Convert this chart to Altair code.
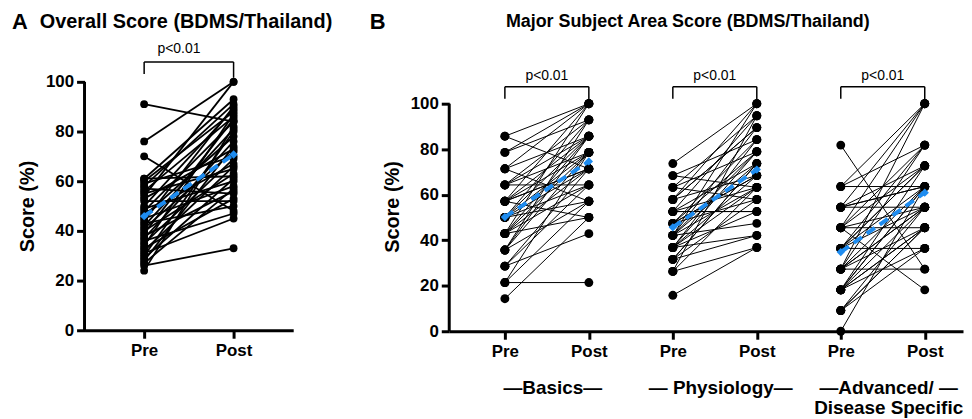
import altair as alt
import pandas as pd

# ---------------- data ----------------
phases = ["Pre", "Post"]
y_ticks = [0, 20, 40, 60, 80, 100]

overall_pre = [91, 76, 70, 61, 61, 60, 59, 58, 57, 56, 55, 54, 53, 52, 50, 49, 48, 47, 46, 45,
               44, 43, 42, 41, 40, 39, 38, 37, 36, 35, 34, 33, 32, 31, 30, 29, 28, 27, 26, 24]
overall_post = [84, 100, 48, 93, 62, 88, 70, 91, 55, 86, 65, 100, 73, 52, 89, 60, 84, 67, 78, 58,
                90, 50, 81, 72, 63, 85, 56, 76, 47, 69, 87, 53, 66, 45, 80, 61, 74, 57, 33, 82]

basics_pre = [85.7, 85.7, 78.6, 78.6, 71.4, 71.4, 71.4, 64.3, 64.3, 64.3, 64.3, 57.1, 57.1, 57.1,
              57.1, 57.1, 50.0, 50.0, 50.0, 50.0, 50.0, 42.9, 42.9, 42.9, 42.9, 42.9, 42.9, 35.7,
              35.7, 35.7, 35.7, 28.6, 28.6, 28.6, 21.4, 21.4, 21.4, 14.3, 50.0, 57.1]
basics_post = [100, 71.4, 92.9, 100, 85.7, 57.1, 100, 78.6, 92.9, 64.3, 85.7, 100, 71.4, 78.6,
               50.0, 85.7, 92.9, 64.3, 78.6, 71.4, 57.1, 85.7, 100, 64.3, 78.6, 50.0, 71.4, 92.9,
               78.6, 57.1, 85.7, 42.9, 71.4, 64.3, 21.4, 78.6, 57.1, 50.0, 85.7, 71.4]

physio_pre = [73.7, 68.4, 68.4, 63.2, 63.2, 63.2, 57.9, 57.9, 57.9, 52.6, 52.6, 52.6, 52.6, 47.4,
              47.4, 47.4, 47.4, 42.1, 42.1, 42.1, 42.1, 42.1, 36.8, 36.8, 36.8, 36.8, 31.6, 31.6,
              31.6, 26.3, 26.3, 15.8, 47.4, 42.1, 36.8, 57.9, 31.6, 52.6, 26.3, 36.8]
physio_post = [100, 63.2, 84.2, 94.7, 57.9, 78.9, 100, 68.4, 89.5, 52.6, 73.7, 94.7, 63.2, 84.2,
               57.9, 78.9, 68.4, 89.5, 47.4, 73.7, 63.2, 100, 52.6, 78.9, 68.4, 84.2, 42.1, 73.7,
               57.9, 63.2, 94.7, 36.8, 68.4, 78.9, 42.1, 89.5, 73.7, 52.6, 36.8, 63.2]

adv_pre = [81.8, 63.6, 63.6, 63.6, 54.5, 54.5, 54.5, 54.5, 45.5, 45.5, 45.5, 45.5, 45.5, 36.4,
           36.4, 36.4, 36.4, 36.4, 27.3, 27.3, 27.3, 27.3, 27.3, 18.2, 18.2, 18.2, 18.2, 9.1,
           9.1, 0.0, 45.5, 36.4, 27.3, 18.2, 54.5, 9.1, 27.3, 18.2, 18.2, 9.1]
adv_post = [27.3, 63.6, 100, 81.8, 100, 54.5, 72.7, 63.6, 18.2, 100, 54.5, 72.7, 45.5, 81.8,
            63.6, 36.4, 54.5, 72.7, 45.5, 63.6, 27.3, 81.8, 54.5, 36.4, 63.6, 45.5, 72.7, 54.5,
            45.5, 63.6, 81.8, 72.7, 54.5, 45.5, 63.6, 36.4, 100, 54.5, 63.6, 45.5]

groups = ["Basics", "Physiology", "Advanced"]
group_label_line1 = ["\u2014Basics\u2014", "\u2014 Physiology\u2014", "\u2014Advanced/ \u2014"]
group_label_line2 = ["", "", "Disease Specific"]
p_label = "p<0.01"
panel_letters = ["A", "B"]
panel_titles = ["Overall Score (BDMS/Thailand)", "Major Subject Area Score (BDMS/Thailand)"]

FONT = "Liberation Sans"
BLUE = "#1E8CF0"


def long_rows(pre, post, x_pre, grp):
    rows = []
    for i, (a, b) in enumerate(zip(pre, post)):
        rows.append({"subj": f"{grp}{i}", "grp": grp, "x": x_pre, "phase": phases[0], "value": a})
        rows.append({"subj": f"{grp}{i}", "grp": grp, "x": x_pre + 1, "phase": phases[1], "value": b})
    return rows


dfA = pd.DataFrame(long_rows(overall_pre, overall_post, 1, "Overall"))
rowsB = []
for gi, (g, pre, post) in enumerate(zip(groups, [basics_pre, physio_pre, adv_pre],
                                        [basics_post, physio_post, adv_post])):
    rowsB += long_rows(pre, post, 1 + 2 * gi, g)
dfB = pd.DataFrame(rowsB)

bracketA = pd.DataFrame({"x1": [1], "x2": [2], "label": [p_label]})
bracketB = pd.DataFrame({"x1": [1, 3, 5], "x2": [2, 4, 6], "label": [p_label] * 3,
                         "l1": group_label_line1, "l2": group_label_line2})
axis_line = pd.DataFrame({"lo": [0], "hi": [100]})


def panel(df, brackets, width, height, xdomain, xvals, ytop, letter, title, letter_dx, title_dx,
          title_size, dot_size, line_w, br_y, p_dx, label_rows):
    xscale = alt.Scale(domain=xdomain, nice=False, zero=False)
    xaxis = alt.Axis(values=xvals, labelExpr="datum.value % 2 == 1 ? 'Pre' : 'Post'",
                     title=None, grid=False, labelPadding=4)
    yscale = alt.Scale(domain=[0, ytop], nice=False)
    yaxis = alt.Axis(values=y_ticks, title="Score (%)", grid=False, domain=False)

    base = alt.Chart(df)
    lines = base.mark_line(color="black", strokeWidth=line_w).encode(
        x=alt.X("x:Q", scale=xscale, axis=xaxis),
        y=alt.Y("value:Q", scale=yscale, axis=yaxis),
        detail="subj:N")
    dots = base.mark_circle(color="black", size=dot_size, opacity=1).encode(
        x=alt.X("x:Q", scale=xscale, axis=xaxis),
        y=alt.Y("value:Q", scale=yscale, axis=yaxis))
    mean_line = base.mark_line(color=BLUE, strokeWidth=4, strokeDash=[10, 6]).encode(
        x=alt.X("x:Q", scale=xscale, axis=xaxis),
        y=alt.Y("mean(value):Q", scale=yscale, axis=yaxis),
        detail="grp:N")
    mean_pts = base.mark_point(shape="diamond", filled=True, color=BLUE, size=70, opacity=1).encode(
        x=alt.X("x:Q", scale=xscale, axis=xaxis),
        y=alt.Y("mean(value):Q", scale=yscale, axis=yaxis),
        detail="grp:N")

    # y axis line, drawn from 0 to 100 only
    yline = alt.Chart(axis_line).mark_rule(color="black", strokeWidth=3).encode(
        x=alt.value(0),
        y=alt.Y("lo:Q", scale=yscale, axis=yaxis), y2="hi:Q")

    bb = alt.Chart(brackets)
    yb, yb_low, yt = br_y
    hbar = bb.mark_rule(color="black", strokeWidth=1.5).encode(
        x=alt.X("x1:Q", scale=xscale, axis=xaxis), x2="x2:Q", y=alt.value(yb))
    vleft = bb.mark_rule(color="black", strokeWidth=1.5).encode(
        x=alt.X("x1:Q", scale=xscale, axis=xaxis), y=alt.value(yb), y2=alt.value(yb_low))
    vright = bb.mark_rule(color="black", strokeWidth=1.5).encode(
        x=alt.X("x2:Q", scale=xscale, axis=xaxis), y=alt.value(yb), y2=alt.value(yb_low + 4))
    ptext = bb.mark_text(font=FONT, fontSize=14, color="black", dx=p_dx).transform_calculate(
        xm="(datum.x1 + datum.x2) / 2").encode(
        x=alt.X("xm:Q", scale=xscale, axis=xaxis), y=alt.value(yt), text="label:N")

    tdf = pd.DataFrame({"letter": [letter], "title": [title]})
    tl = alt.Chart(tdf).mark_text(font=FONT, fontSize=22, fontWeight="bold", align="left",
                                  baseline="middle", color="black").encode(
        x=alt.value(letter_dx), y=alt.value(-60), text="letter:N")
    tt = alt.Chart(tdf).mark_text(font=FONT, fontSize=title_size, fontWeight="bold", align="left",
                                  baseline="middle", color="black").encode(
        x=alt.value(title_dx), y=alt.value(-60), text="title:N")

    layers = [yline, lines, dots, mean_line, mean_pts, hbar, vleft, vright, ptext, tl, tt]
    if label_rows:
        shift = "(datum.x1 + datum.x2) / 2 + 0.07"
        g1 = bb.mark_text(font=FONT, fontSize=19, fontWeight="bold", color="black",
                          baseline="middle").transform_calculate(xm=shift).encode(
            x=alt.X("xm:Q", scale=xscale, axis=xaxis), y=alt.value(height + 57), text="l1:N")
        g2 = bb.mark_text(font=FONT, fontSize=19, fontWeight="bold", color="black",
                          baseline="middle").transform_calculate(xm=shift).encode(
            x=alt.X("xm:Q", scale=xscale, axis=xaxis), y=alt.value(height + 77), text="l2:N")
        layers += [g1, g2]
    return alt.layer(*layers).properties(width=width, height=height)


unitA = 90.0
panelA = panel(dfA, bracketA, 210, 250, [1 - 60 / unitA, 1 - 60 / unitA + 210 / unitA], [1, 2],
               100, panel_letters[0], panel_titles[0], -73, -45, 20, 62, 1.8, (-20, -8, -33), -10,
               False)
unitB = 84.5
d0 = 1 - 56 / unitB
pxB = 2.29  # pixels per score unit in panel B
panelB = panel(dfB, bracketB, 517, 251, [d0, d0 + 517 / unitB], [1, 2, 3, 4, 5, 6],
               251 / pxB, panel_letters[1], panel_titles[1], -80, 57, 18, 80, 1.0,
               (5, 17, -6), 0, True)

chart = alt.hconcat(panelA, panelB, spacing=37).properties(
    padding={"left": 4, "top": 2, "right": 0, "bottom": 0}
).configure_view(stroke=None).configure_axis(
    domainWidth=3, domainColor="black", tickWidth=3, tickColor="black", tickSize=8,
    labelFont=FONT, labelFontSize=17, labelFontWeight="bold", labelColor="black",
    titleFont=FONT, titleFontSize=20, titleFontWeight="bold", titleColor="black",
    labelPadding=3, titlePadding=8
)

chart.save("out.html", embed_options={"renderer": "svg", "actions": False})
